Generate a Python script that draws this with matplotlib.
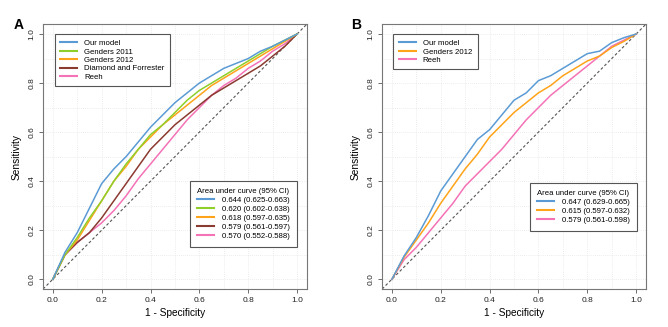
import matplotlib
matplotlib.use("Agg")
import matplotlib.pyplot as plt
from matplotlib.lines import Line2D

plt.rcParams['font.family'] = ['Liberation Sans', 'DejaVu Sans']

fpr = [0, .05, .1, .15, .2, .25, .3, .35, .4, .45, .5, .55, .6, .65, .7, .75, .8, .85, .9, .95, 1]

a_names = ["Our model", "Genders 2011", "Genders 2012", "Diamond and Forrester", "Reeh"]
a_auc = ["0.644 (0.625-0.663)", "0.620 (0.602-0.638)", "0.618 (0.597-0.635)",
         "0.579 (0.561-0.597)", "0.570 (0.552-0.588)"]
a_our = [0, .11, .19, .29, .39, .45, .50, .56, .62, .67, .72, .76, .80, .83, .86, .88, .90, .93, .95, .975, 1]
a_g2011 = [0, .10, .17, .25, .32, .40, .47, .53, .59, .63, .68, .73, .77, .80, .83, .86, .89, .92, .95, .975, 1]
a_g2012 = [0, .10, .16, .24, .32, .40, .46, .53, .58, .63, .67, .71, .75, .79, .82, .85, .88, .91, .94, .97, 1]
a_df = [0, .10, .15, .19, .25, .32, .39, .46, .53, .58, .63, .67, .71, .75, .78, .81, .84, .87, .91, .95, 1]
a_reeh = [0, .10, .15, .19, .23, .28, .34, .41, .47, .53, .59, .65, .70, .75, .79, .82, .86, .89, .93, .96, 1]

b_names = ["Our model", "Genders 2012", "Reeh"]
b_auc = ["0.647 (0.629-0.665)", "0.615 (0.597-0.632)", "0.579 (0.561-0.598)"]
b_our = [0, .095, .17, .26, .36, .43, .50, .57, .61, .67, .73, .76, .81, .83, .86, .89, .92, .93, .965, .985, 1]
b_g2012 = [0, .09, .16, .23, .31, .38, .45, .51, .58, .63, .68, .72, .76, .79, .83, .86, .89, .91, .945, .97, 1]
b_reeh = [0, .08, .13, .19, .25, .31, .38, .43, .48, .53, .59, .65, .70, .75, .79, .83, .87, .91, .95, .975, 1]

C_BLUE = "#5b9bd5"
C_GREEN = "#8fcf2a"
C_ORANGE = "#ffa31a"
C_BROWN = "#8b3a30"
C_PINK = "#f472b6"

ticks = [0, 0.2, 0.4, 0.6, 0.8, 1.0]
tick_labels = ["0.0", "0.2", "0.4", "0.6", "0.8", "1.0"]

fig = plt.figure(figsize=(6.68, 3.27), dpi=100)


def panel(rect, series, colors, names, aucs, letter, leg1_anchor, leg2_anchor, letter_x):
    ax = fig.add_axes(rect)
    ax.set_xlim(-0.04, 1.04)
    ax.set_ylim(-0.04, 1.04)
    for g in [i / 10 for i in range(11)]:
        ax.axvline(g, color="#e6e6e6", lw=0.6, ls=(0, (1, 1.5)), zorder=0)
        ax.axhline(g, color="#e6e6e6", lw=0.6, ls=(0, (1, 1.5)), zorder=0)
    ax.plot([-0.04, 1.04], [-0.04, 1.04], color="#555555", lw=0.8, ls=(0, (2.5, 2)), zorder=1)
    for ys, c in reversed(list(zip(series, colors))):
        ax.plot(fpr, ys, color=c, lw=1.1, zorder=2)
    for s in ax.spines.values():
        s.set_color("#777777")
        s.set_linewidth(0.8)
    ax.set_xticks(ticks)
    ax.set_xticklabels(tick_labels)
    ax.set_yticks(ticks)
    ax.set_yticklabels(tick_labels, rotation=90, va="center")
    ax.tick_params(labelsize=6, length=3, width=0.6, color="#555555", labelcolor="#222222", pad=2.5)
    ax.set_xlabel("1 - Specificity", fontsize=7.3, labelpad=3)
    ax.set_ylabel("Sensitivity", fontsize=7.3, labelpad=5)
    handles = [Line2D([], [], color=c, lw=1.5) for c in colors]
    l1 = ax.legend(handles, names, loc="upper left", bbox_to_anchor=leg1_anchor,
                   fontsize=5.6, frameon=True, fancybox=False, edgecolor="#555555",
                   framealpha=1, handlelength=2.2, handletextpad=0.9, labelspacing=0.12,
                   borderpad=0.7, borderaxespad=0)
    l1.get_frame().set_linewidth(0.8)
    ax.add_artist(l1)
    l2 = ax.legend(handles, aucs, loc="lower right", bbox_to_anchor=leg2_anchor,
                   title="Area under curve (95% CI)", title_fontsize=5.6,
                   fontsize=5.6, frameon=True, fancybox=False, edgecolor="#555555",
                   framealpha=1, handlelength=2.2, handletextpad=1.0, labelspacing=0.2,
                   borderpad=0.9, borderaxespad=0)
    l2.get_frame().set_linewidth(0.8)
    fig.text(letter_x, 0.925, letter, fontsize=10, fontweight="bold", ha="left", va="center")
    return ax


panel([0.0644, 0.116, 0.395, 0.810],
      [a_our, a_g2011, a_g2012, a_df, a_reeh],
      [C_BLUE, C_GREEN, C_ORANGE, C_BROWN, C_PINK],
      a_names, a_auc, "A", (0.045, 0.962), (0.962, 0.158), 0.02)

panel([0.572, 0.116, 0.395, 0.810],
      [b_our, b_g2012, b_reeh],
      [C_BLUE, C_ORANGE, C_PINK],
      b_names, b_auc, "B", (0.042, 0.962), (0.966, 0.219), 0.525)

fig.savefig("out.png", dpi=100)
